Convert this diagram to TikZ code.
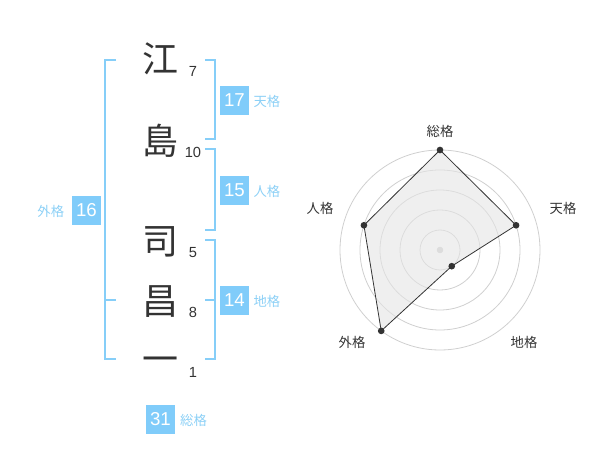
\documentclass[tikz,border=0pt]{standalone}
\usepackage{fontspec}
\setmainfont{Liberation Sans}
\newfontfamily\jpfont{Noto Sans CJK JP}
\usetikzlibrary{positioning}

\definecolor{inkgray}{HTML}{333333}
\definecolor{boxblue}{HTML}{80CCFA}
\definecolor{bracketblue}{HTML}{86CEF8}
\definecolor{labelblue}{HTML}{8CD0F6}
\definecolor{gridgray}{HTML}{CFCFCF}

\begin{document}
\begin{tikzpicture}[
    x=0.75pt, y=-0.75pt,
    kanji/.style={font=\jpfont\fontsize{27}{27}\selectfont, text=inkgray, inner sep=0pt, anchor=base},
    strokes/.style={font=\fontsize{11}{11}\selectfont, text=inkgray, inner sep=0pt, anchor=base},
    score/.style={fill=boxblue, text=white, font=\fontsize{14}{14}\selectfont, minimum size=21.75pt, inner sep=0pt},
    kaku/.style={font=\jpfont\fontsize{10}{10}\selectfont, text=labelblue, inner sep=0pt},
    bracket/.style={draw=bracketblue, line width=1.5pt},
    axis/.style={font=\jpfont\fontsize{10}{10}\selectfont, text=inkgray, inner sep=0pt},
    ring/.style={draw=gridgray, line width=0.6pt},
    dot/.style={circle, fill=inkgray, minimum size=5pt, inner sep=0pt}
]
\useasboundingbox (0,0) rectangle (600,470);

% Name
\node[kanji] (ch1) at (160,73) {江};
\node[kanji] (ch2) at (160,155) {島};
\node[kanji] (ch3) at (160,255) {司};
\node[kanji] (ch4) at (160,315) {昌};
\node[kanji] (ch5) at (160,373) {一};

% Strokes
\node[strokes] (n1) at (193,77) {7};
\node[strokes] (n2) at (193,158) {10};
\node[strokes] (n3) at (193,258) {5};
\node[strokes] (n4) at (193,318) {8};
\node[strokes] (n5) at (193,378) {1};

% Brackets
\draw[bracket] (116,60) -- (105,60) -- (105,359) -- (116,359);
\draw[bracket] (105,300) -- (116,300);
\draw[bracket] (205,60) -- (215,60) -- (215,139) -- (205,139);
\draw[bracket] (205,149) -- (215,149) -- (215,230) -- (205,230);
\draw[bracket] (205,240) -- (215,240) -- (215,359) -- (205,359);
\draw[bracket] (205,300) -- (215,300);

% Scores
\node[score] (ten) at (234.5,100.5) {17};
\node[kaku, base right=3pt of ten] (tenl) {天格};
\node[score] (jin) at (234.5,190.5) {15};
\node[kaku, base right=3pt of jin] (jinl) {人格};
\node[score] (chi) at (234.5,300.5) {14};
\node[kaku, base right=3pt of chi] (chil) {地格};
\node[score] (gai) at (86.5,210.5) {16};
\node[kaku, base left=5.5pt of gai] (gail) {外格};
\node[score] (sou) at (160.5,419) {31};
\node[kaku, base right=3.5pt of sou] (soul) {総格};

% Radar
\begin{scope}[shift={(440,250)}, y=0.75pt]
  \foreach \r in {20,40,60,80,100}
    \draw[ring] (0,0) circle[radius=\r];
  \fill[gridgray] (0,0) circle[radius=3.3];
  \coordinate (rsou) at (90:100);
  \coordinate (rten) at (18:80);
  \coordinate (rchi) at (-54:20);
  \coordinate (rgai) at (-126:100);
  \coordinate (rjin) at (162:80);
  \fill[black!10, fill opacity=0.6] (rsou) -- (rten) -- (rchi) -- (rgai) -- (rjin) -- cycle;
  \draw[inkgray, line width=0.6pt] (rsou) -- (rten) -- (rchi) -- (rgai) -- (rjin) -- cycle;
  \foreach \p in {rsou,rten,rchi,rgai,rjin}
    \node[dot] (\p-dot) at (\p) {};
\end{scope}
\node[axis] (asou) at (440,131) {総格};
\node[axis] (aten) at (563,208) {天格};
\node[axis] (ajin) at (320,208) {人格};
\node[axis] (agai) at (352,342) {外格};
\node[axis] (achi) at (524,342) {地格};

\end{tikzpicture}
\end{document}
